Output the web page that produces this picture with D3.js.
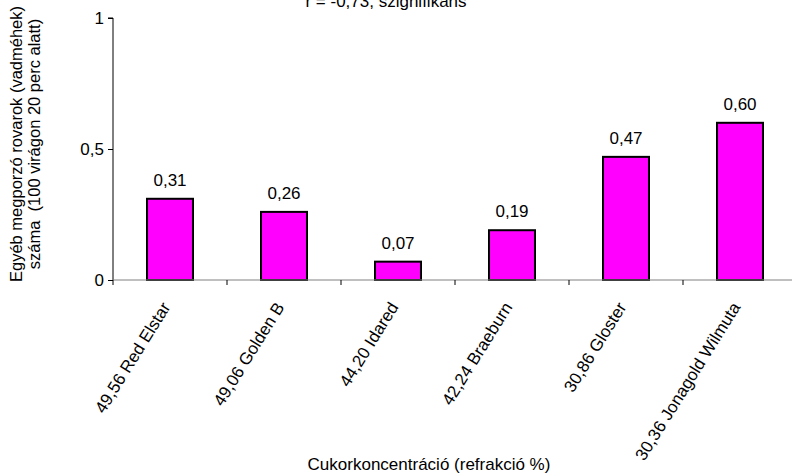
<!DOCTYPE html>
<html>
<head>
<meta charset="utf-8">
<script src="https://cdn.jsdelivr.net/npm/d3@7"></script>
<style>
  html, body { margin: 0; padding: 0; background: #fff; }
  svg { display: block; font-family: "Liberation Sans", Arial, sans-serif; }
</style>
</head>
<body>
<svg id="chart" width="792" height="475"></svg>
<script>
// Apple varieties labelled with their sugar concentration (refraction %)
const categories = [
  "49,56 Red Elstar",
  "49,06 Golden B",
  "44,20 Idared",
  "42,24 Braeburn",
  "30,86 Gloster",
  "30,36 Jonagold Wilmuta"
];
// Other pollinating insects (wild bees) per 100 flowers in 20 minutes
const values = [0.31, 0.26, 0.07, 0.19, 0.47, 0.60];
const yTicks = [0, 0.5, 1];
const yTickLabels = ["0", "0,5", "1"];

const titleText = "r = -0,73, szignifikáns";
const yTitleLines = ["Egyéb megporzó rovarok (vadméhek)", "száma  (100 virágon 20 perc alatt)"];
const xTitleText = "Cukorkoncentráció (refrakció %)";

const fmt = v => d3.format(".2f")(v).replace(".", ",");

const svg = d3.select("#chart");
const fs = 17;

const x0 = 113, x1 = 797, yBase = 280, yTop = 18;

const xBand = d3.scaleBand().domain(categories).range([x0, x1]);
const y = d3.scaleLinear().domain([0, 1]).range([yBase, yTop]);
const barW = 46;
const cx = d => xBand(d) + xBand.bandwidth() / 2;

// Title (partly above the top edge)
svg.append("text")
  .attr("x", 386).attr("y", 7)
  .attr("text-anchor", "middle")
  .attr("font-size", fs)
  .text(titleText);

// Bars
svg.append("g").selectAll("rect")
  .data(values)
  .join("rect")
  .attr("x", (d, i) => cx(categories[i]) - barW / 2)
  .attr("width", barW)
  .attr("y", d => y(d))
  .attr("height", d => y(0) - y(d))
  .attr("fill", "#ff00ff")
  .attr("stroke", "#000")
  .attr("stroke-width", 2);

// Value labels
svg.append("g").selectAll("text")
  .data(values)
  .join("text")
  .attr("x", (d, i) => cx(categories[i]))
  .attr("y", d => y(d) - 13)
  .attr("text-anchor", "middle")
  .attr("font-size", fs)
  .text(d => fmt(d));

// Y axis
const yAxis = d3.axisLeft(y).tickValues(yTicks).tickFormat((d, i) => yTickLabels[i]).tickSize(5).tickPadding(4);
const gy = svg.append("g").attr("transform", `translate(${x0},0)`).call(yAxis);
gy.select(".domain").attr("stroke", "#000").attr("d", `M-5,${yTop}H0V${yBase}`);
gy.selectAll("line").attr("stroke", "#000");
gy.selectAll("text").attr("font-size", fs).attr("font-family", "Liberation Sans, Arial, sans-serif").attr("fill", "#000");

// X axis baseline with separator ticks between categories
const gx = svg.append("g").attr("transform", `translate(0,${yBase})`);
gx.append("path").attr("d", `M${x0},0H${x1}`).attr("stroke", "#808080").attr("fill", "none");
gx.selectAll("line.sep")
  .data(categories)
  .join("line")
  .attr("class", "sep")
  .attr("x1", d => xBand(d)).attr("x2", d => xBand(d))
  .attr("y1", 0).attr("y2", 5)
  .attr("stroke", "#000");

// Rotated category labels
svg.append("g").selectAll("text")
  .data(categories)
  .join("text")
  .attr("transform", d => `translate(${cx(d) + 1},${yBase + 27}) rotate(-58)`)
  .attr("text-anchor", "end")
  .attr("font-size", fs)
  .text(d => d);

// Y axis title
const yt = svg.append("text")
  .attr("transform", "translate(0,144) rotate(-90)")
  .attr("text-anchor", "middle")
  .attr("font-size", 16.5);
yt.selectAll("tspan")
  .data(yTitleLines)
  .join("tspan")
  .attr("x", 0)
  .attr("y", (d, i) => 22 + i * 18)
  .style("white-space", "pre")
  .text(d => d);

// X axis title
svg.append("text")
  .attr("x", 429).attr("y", 470)
  .attr("text-anchor", "middle")
  .attr("font-size", fs)
  .text(xTitleText);
</script>
</body>
</html>
